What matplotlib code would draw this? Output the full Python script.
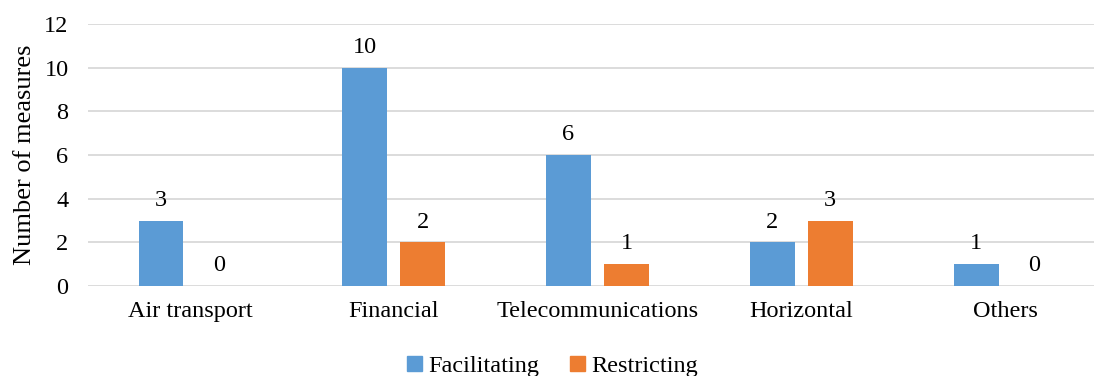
import numpy as np
import matplotlib.pyplot as plt
from matplotlib.patches import Patch

plt.rcParams['font.family'] = ['Liberation Serif', 'DejaVu Serif']

# Data
sectors = ['Air transport', 'Financial', 'Telecommunications', 'Horizontal', 'Others']
facilitating = [3, 10, 6, 2, 1]
restricting = [0, 2, 1, 3, 0]
yticks = [0, 2, 4, 6, 8, 10, 12]

blue = '#5B9BD5'
orange = '#ED7D31'

fig = plt.figure(figsize=(10.94, 3.76), dpi=100)
ax = fig.add_axes([88 / 1094, 1 - 286 / 376, 1019 / 1094, 262 / 376])

x = np.arange(len(sectors))
w = 0.22
off = 0.142
b1 = ax.bar(x - off, facilitating, w, color=blue, zorder=3)
b2 = ax.bar(x + off, restricting, w, color=orange, zorder=3)

for bars, vals in ((b1, facilitating), (b2, restricting)):
    for rect, v in zip(bars, vals):
        ax.annotate(str(v), (rect.get_x() + rect.get_width() / 2, v),
                    xytext=(0, 7), textcoords='offset points',
                    ha='center', va='bottom', fontsize=17.5)

ax.set_xlim(-0.5, len(sectors) - 0.5)
ax.set_ylim(0, 12)
ax.set_yticks(yticks)
ax.set_xticks(x)
ax.set_xticklabels(sectors)
ax.tick_params(axis='both', length=0, labelsize=17.5)
ax.tick_params(axis='x', pad=11)
ax.tick_params(axis='y', pad=14)
ax.grid(axis='y', color='#d9d9d9', linewidth=1.3, zorder=0)
for s in ax.spines.values():
    s.set_visible(False)
ax.set_ylabel('Number of measures', fontsize=19, labelpad=6)

handles = [Patch(color=blue, label='Facilitating'), Patch(color=orange, label='Restricting')]
fig.legend(handles=handles, loc='center', bbox_to_anchor=(0.505, 0.025), ncol=2,
           frameon=False, fontsize=17.5, handlelength=0.6, handleheight=0.6,
           handletextpad=0.25, columnspacing=1.3)

plt.savefig('out.png', dpi=100)
